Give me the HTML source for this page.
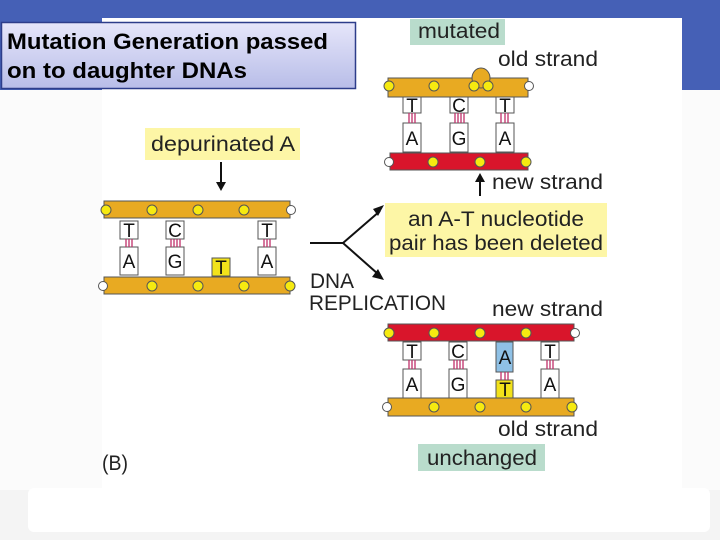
<!DOCTYPE html>
<html><head><meta charset="utf-8"><style>
html,body{margin:0;padding:0;width:720px;height:540px;overflow:hidden;background:#f4f4f4}
svg{display:block}
text{font-family:"Liberation Sans",sans-serif}
</style></head><body>
<svg width="720" height="540" viewBox="0 0 720 540">
<defs>
<linearGradient id="tg" x1="0" y1="0" x2="0" y2="1"><stop offset="0" stop-color="#e6e6fa"/><stop offset="1" stop-color="#b8bde8"/></linearGradient>
</defs>
<rect x="0" y="0" width="720" height="90" fill="#4560b6"/>
<rect x="0" y="90" width="720" height="400" fill="#fbfbfb"/>
<rect x="102" y="18" width="580" height="470" fill="#fff"/>
<rect x="28" y="488" width="682" height="44" rx="6" fill="#fff"/>

<rect x="1.5" y="22.5" width="354" height="66" fill="url(#tg)" stroke="#2d3d8a" stroke-width="1.5"/>
<text x="7" y="49" font-size="22" font-weight="bold" fill="#000" textLength="321" lengthAdjust="spacingAndGlyphs">Mutation Generation passed</text>
<text x="7" y="78" font-size="22" font-weight="bold" fill="#000" textLength="240" lengthAdjust="spacingAndGlyphs">on to daughter DNAs</text>

<g font-size="21" fill="#222" lengthAdjust="spacingAndGlyphs">
<rect x="410" y="19" width="95" height="26" fill="#b9dccc"/>
<text x="418" y="38" textLength="82" lengthAdjust="spacingAndGlyphs">mutated</text>
<text x="498" y="66" textLength="100" lengthAdjust="spacingAndGlyphs">old strand</text>
<rect x="145" y="128" width="155" height="32" fill="#fdf6a6"/>
<text x="151" y="151" textLength="144" lengthAdjust="spacingAndGlyphs">depurinated A</text>
<text x="492" y="189" textLength="111" lengthAdjust="spacingAndGlyphs">new strand</text>
<rect x="385" y="203" width="222" height="54" fill="#fdf6a6"/>
<text x="408" y="226" textLength="176" lengthAdjust="spacingAndGlyphs">an A-T nucleotide</text>
<text x="389" y="250" textLength="214" lengthAdjust="spacingAndGlyphs">pair has been deleted</text>
<text x="310" y="288" textLength="44" lengthAdjust="spacingAndGlyphs">DNA</text>
<text x="309" y="310" textLength="137" lengthAdjust="spacingAndGlyphs">REPLICATION</text>
<text x="492" y="316" textLength="111" lengthAdjust="spacingAndGlyphs">new strand</text>
<text x="498" y="436" textLength="100" lengthAdjust="spacingAndGlyphs">old strand</text>
<rect x="418" y="444" width="127" height="27" fill="#b9dccc"/>
<text x="427" y="465" textLength="110" lengthAdjust="spacingAndGlyphs">unchanged</text>
<text x="102" y="470" textLength="26" lengthAdjust="spacingAndGlyphs">(B)</text>
</g>
<line x1="221" y1="162" x2="221" y2="184" stroke="#111" stroke-width="2"/>
<polygon points="216,182 226,182 221,191" fill="#111"/>
<line x1="480" y1="196" x2="480" y2="180" stroke="#111" stroke-width="2"/>
<polygon points="475,182 485,182 480,173" fill="#111"/>
<polyline points="310,243 343,243 380,211" fill="none" stroke="#111" stroke-width="2"/>
<line x1="343" y1="243" x2="378" y2="274" stroke="#111" stroke-width="2"/>
<polygon points="384,205 378,216 373,209" fill="#111"/>
<polygon points="384,280 372,277 378,269" fill="#111"/>

<g stroke="#555" stroke-width="1">
<rect x="104" y="201" width="186" height="17" fill="#e8aa22"/>
<rect x="104" y="277" width="186" height="17" fill="#e8aa22"/>
<g fill="#fff">
<rect x="120" y="221" width="18" height="18"/><rect x="120" y="247" width="18" height="28"/>
<rect x="166" y="221" width="18" height="18"/><rect x="166" y="247" width="18" height="28"/>
<rect x="258" y="221" width="18" height="18"/><rect x="258" y="247" width="18" height="28"/>
</g>
<rect x="212" y="258" width="18" height="18" fill="#f2e21a"/>
<rect x="388" y="78" width="140" height="19" fill="#e8aa22"/>
<ellipse cx="481" cy="78" rx="9" ry="10" fill="#e8aa22"/>
<rect x="390" y="153" width="138" height="17" fill="#d9152b"/>
<g fill="#fff">
<rect x="403" y="97" width="18" height="16"/><rect x="403" y="123" width="18" height="29"/>
<rect x="450" y="97" width="18" height="16"/><rect x="450" y="123" width="18" height="29"/>
<rect x="496" y="97" width="18" height="16"/><rect x="496" y="123" width="18" height="29"/>
</g>
<rect x="388" y="324" width="186" height="17" fill="#d9152b"/>
<rect x="388" y="398" width="186" height="18" fill="#e8aa22"/>
<g fill="#fff">
<rect x="403" y="342" width="18" height="18"/><rect x="403" y="369" width="18" height="29"/>
<rect x="449" y="342" width="18" height="18"/><rect x="449" y="369" width="18" height="29"/>
<rect x="541" y="342" width="18" height="18"/><rect x="541" y="369" width="18" height="29"/>
</g>
<rect x="496" y="342" width="17" height="30" fill="#8fc1e6"/>
<rect x="496" y="380" width="17" height="18" fill="#f2e21a"/>
</g>
<g stroke="#c0306a" stroke-width="1.3">
<path d="M126 239v8M129 239v8M132 239v8M171 239v8M174 239v8M177 239v8M180 239v8M264 239v8M267 239v8M270 239v8"/>
<path d="M409 113v10M412 113v10M415 113v10M455 113v10M458 113v10M461 113v10M464 113v10M501 113v10M505 113v10M508 113v10"/>
<path d="M409 360v9M412 360v9M415 360v9M454 360v9M457 360v9M460 360v9M463 360v9M547 360v9M550 360v9M553 360v9M501 372v8M505 372v8M508 372v8"/>
</g>
<g fill="#f6ea10" stroke="#555" stroke-width="1">
<circle cx="106" cy="210" r="5"/><circle cx="152" cy="210" r="5"/><circle cx="198" cy="210" r="5"/><circle cx="244" cy="210" r="5"/>
<circle cx="152" cy="286" r="5"/><circle cx="198" cy="286" r="5"/><circle cx="244" cy="286" r="5"/><circle cx="290" cy="286" r="5"/>
<circle cx="389" cy="86" r="5"/><circle cx="434" cy="86" r="5"/><circle cx="474" cy="86" r="5"/><circle cx="488" cy="86" r="5"/>
<circle cx="433" cy="162" r="5"/><circle cx="480" cy="162" r="5"/><circle cx="526" cy="162" r="5"/>
<circle cx="389" cy="333" r="5"/><circle cx="434" cy="333" r="5"/><circle cx="480" cy="333" r="5"/><circle cx="526" cy="333" r="5"/>
<circle cx="434" cy="407" r="5"/><circle cx="480" cy="407" r="5"/><circle cx="526" cy="407" r="5"/><circle cx="572" cy="407" r="5"/>
</g>
<g fill="#fff" stroke="#555">
<circle cx="291" cy="210" r="4.5"/><circle cx="103" cy="286" r="4.5"/>
<circle cx="529" cy="86" r="4.5"/><circle cx="389" cy="162" r="4.5"/>
<circle cx="575" cy="333" r="4.5"/><circle cx="387" cy="407" r="4.5"/>
</g>
<g font-size="19" fill="#111" text-anchor="middle">
<text x="129" y="237">T</text><text x="129" y="268">A</text>
<text x="175" y="237">C</text><text x="175" y="268">G</text>
<text x="267" y="237">T</text><text x="267" y="268">A</text>
<text x="221" y="274">T</text>
<text x="412" y="112">T</text><text x="412" y="145">A</text>
<text x="459" y="112">C</text><text x="459" y="145">G</text>
<text x="505" y="112">T</text><text x="505" y="145">A</text>
<text x="412" y="358">T</text><text x="412" y="391">A</text>
<text x="458" y="358">C</text><text x="458" y="391">G</text>
<text x="550" y="358">T</text><text x="550" y="391">A</text>
<text x="505" y="364">A</text><text x="505" y="396">T</text>
</g>
</svg>
</body></html>
